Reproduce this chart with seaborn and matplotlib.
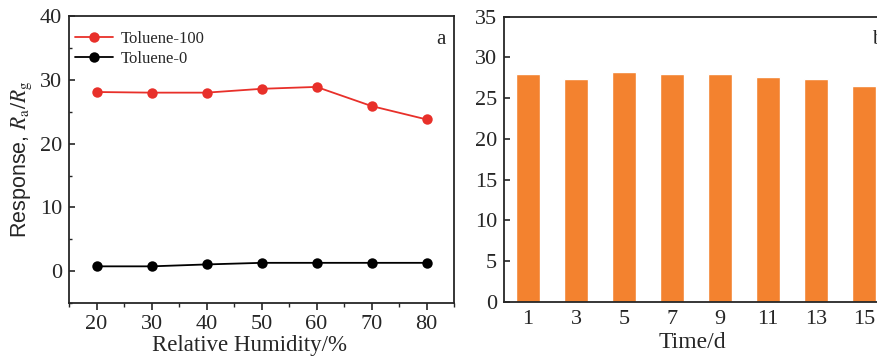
import numpy as np
import pandas as pd
import matplotlib
matplotlib.use("Agg")
import matplotlib.pyplot as plt
import seaborn as sns
from matplotlib.ticker import MultipleLocator

# ---- data ----
humidity = [20, 30, 40, 50, 60, 70, 80]
toluene_100 = [28.1, 28.0, 28.0, 28.6, 28.9, 25.9, 23.8]
toluene_0 = [0.75, 0.75, 1.05, 1.3, 1.3, 1.3, 1.3]
days = ["1", "3", "5", "7", "9", "11", "13", "15"]
response_days = [28.0, 27.3, 28.2, 28.0, 28.0, 27.55, 27.3, 26.5]

sns.set_style("ticks")
plt.rcParams["font.family"] = ["Liberation Serif", "DejaVu Serif"]
plt.rcParams["mathtext.fontset"] = "stix"
plt.rcParams["axes.linewidth"] = 1.3

fig = plt.figure(figsize=(8.78, 3.59), dpi=100)
ax1 = fig.add_axes([0.0786, 0.156, 0.4385, 0.799])
ax2 = fig.add_axes([0.574, 0.1596, 0.4374, 0.794])

df = pd.DataFrame({
    "RH": humidity * 2,
    "val": toluene_100 + toluene_0,
    "series": ["Toluene-100"] * len(humidity) + ["Toluene-0"] * len(humidity),
})
sns.lineplot(data=df, x="RH", y="val", hue="series",
             palette={"Toluene-100": "#E8302A", "Toluene-0": "#000000"},
             marker="o", markersize=7.5, markeredgewidth=0, linewidth=1.3,
             ax=ax1)
ax1.set_xlim(15, 85)
ax1.set_ylim(-5, 40)
ax1.set_xticks(humidity)
ax1.xaxis.set_minor_locator(MultipleLocator(5))
ax1.set_yticks([0, 10, 20, 30, 40])
ax1.yaxis.set_minor_locator(MultipleLocator(5))
ax1.tick_params(axis="x", which="major", direction="out", length=5, width=1.2, labelsize=16, pad=4)
ax1.tick_params(axis="x", which="minor", direction="out", length=3, width=1.0)
ax1.tick_params(axis="y", which="major", direction="in", length=4, width=1.2, labelsize=16, pad=5)
ax1.tick_params(axis="y", which="minor", direction="in", length=2.5, width=1.0)
ax1.set_xlabel("Relative Humidity/%", fontsize=16.5)
ax1.xaxis.label.set_va("baseline")
ax1.xaxis.set_label_coords(0.47, -0.167)
ax1.set_ylabel(r"Response, $R_{\rm a}/R_{\rm g}$", fontsize=15.5, labelpad=4,
               family=["Liberation Sans", "DejaVu Sans"])
leg = ax1.legend(loc="upper left", frameon=False, fontsize=12, handlelength=2.3,
                 handletextpad=0.45, labelspacing=0.25, borderaxespad=0.3,
                 bbox_to_anchor=(-0.015, 0.99))
ax1.text(0.965, 0.92, "a", transform=ax1.transAxes, fontsize=15, ha="center", va="center")
for s in ax1.spines.values():
    s.set_visible(True)

sns.barplot(x=days, y=response_days, color="#F3822F", width=0.5, saturation=1,
            ax=ax2)
ax2.set_xlim(-0.5, 7.5)
ax2.set_ylim(0, 35)
ax2.set_yticks(range(0, 36, 5))
ax2.tick_params(axis="x", length=0, labelsize=16, pad=6)
ax2.tick_params(axis="y", direction="in", length=4, width=1.2, labelsize=16, pad=5)
ax2.set_xlabel("Time/d", fontsize=17)
ax2.xaxis.label.set_va("baseline")
ax2.xaxis.set_label_coords(0.49, -0.1625)
ax2.set_ylabel("")
ax2.text(0.958, 0.92, "b", transform=ax2.transAxes, fontsize=15, ha="left", va="center")
for s in ax2.spines.values():
    s.set_visible(True)

fig.savefig("out.png", dpi=100)
